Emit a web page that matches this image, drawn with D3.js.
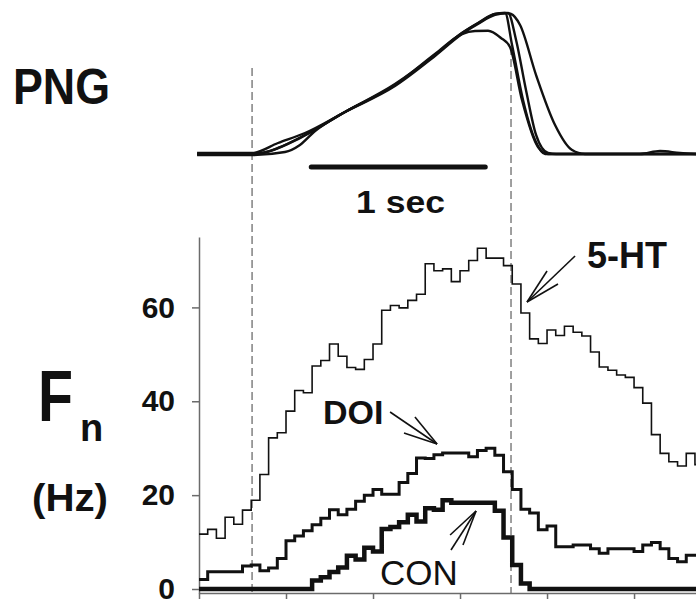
<!DOCTYPE html>
<html>
<head>
<meta charset="utf-8">
<script src="https://cdn.jsdelivr.net/npm/d3@7"></script>
<style>
  body { margin: 0; background: #fff; }
  svg { display: block; font-family: "Liberation Sans", Arial, sans-serif; }
</style>
</head>
<body>
<div id="chart"></div>
<script>
/* Firing rate histograms, 50 ms bins (Hz) */
const binWidth = 0.05;  // seconds
const ht5 = [11.7, 12.7, 10.8, 15.3, 13.8, 16.8, 18.9, 24.4, 32.2, 33.3,
  37.9, 42.3, 41.8, 47.5, 48.7, 52.2, 49.6, 47.2, 46.8, 48.9,
  52.2, 59.4, 60.4, 59.9, 61.5, 62.8, 69.3, 67.8, 68.2, 65.5,
  67.8, 70.0, 72.6, 70.5, 70.5, 68.9, 65.0, 58.8, 53.3, 52.3,
  55.2, 54.0, 56.0, 54.7, 53.9, 50.5, 47.3, 46.6, 45.6, 45.1,
  42.9, 39.6, 32.9, 28.9, 27.1, 26.2, 28.9, 26.5];
const doi = [2.0, 3.7, 3.7, 3.7, 3.7, 4.9, 5.1, 3.9, 4.5, 6.5,
  10.3, 11.3, 12.4, 13.7, 15.1, 16.9, 15.8, 17.0, 18.7, 20.0,
  21.2, 20.2, 20.2, 22.7, 24.6, 27.9, 27.8, 28.6, 29.0, 29.0,
  29.0, 28.2, 29.5, 30.0, 28.5, 25.0, 21.2, 17.0, 16.2, 12.6,
  13.4, 9.0, 9.0, 9.4, 9.4, 8.6, 7.6, 8.6, 8.6, 8.6,
  8.0, 9.4, 9.9, 8.6, 6.5, 5.8, 7.2, 7.2];
const con = [0, 0, 0, 0, 0, 0, 0, 0, 0, 0,
  0, 0, 0, 1.8, 2.5, 3.6, 4.6, 7.1, 6.3, 8.8,
  8.0, 12.8, 13.2, 14.2, 15.8, 14.4, 17.2, 16.9, 18.9, 18.4,
  18.4, 18.4, 18.4, 18.4, 16.7, 11.0, 5.1, 1.2, 0, 0,
  0, 0, 0, 0, 0, 0, 0, 0, 0, 0,
  0, 0, 0, 0, 0, 0, 0, 0];

/* Penile (PNG) movement traces: [time s, normalised amplitude] */
const pngA = [[-0.011, 0], [0.305, 0], [0.362, 0.007], [0.454, 0.043], [0.609, 0.135],
  [0.839, 0.298], [1.126, 0.489], [1.356, 0.702], [1.511, 0.858], [1.603, 0.929],
  [1.701, 0.993], [1.759, 1.0], [1.799, 0.773], [1.862, 0.383], [1.931, 0.099],
  [1.989, 0], [2.534, 0], [2.649, 0.021], [2.764, 0.007], [2.856, 0]];
const pngB = [[-0.011, 0.007], [0.305, 0.007], [0.454, 0.078], [0.609, 0.149], [0.839, 0.298],
  [1.126, 0.482], [1.356, 0.695], [1.511, 0.851], [1.603, 0.922], [1.701, 0.986],
  [1.776, 1.0], [1.822, 0.809], [1.879, 0.454], [1.937, 0.135], [2.006, 0.007],
  [2.052, 0], [2.856, 0]];
const pngC = [[-0.011, -0.007], [0.305, -0.007], [0.494, 0.014], [0.580, 0.064], [0.667, 0.163],
  [0.839, 0.298], [1.126, 0.489], [1.356, 0.709], [1.511, 0.851], [1.586, 0.872],
  [1.661, 0.874], [1.735, 0.823], [1.787, 0.759], [1.856, 0.383], [1.948, 0.050],
  [2.006, 0], [2.856, 0]];
const pngD = [[-0.011, 0], [0.305, 0], [0.408, 0.021], [0.580, 0.113], [0.839, 0.298],
  [1.126, 0.496], [1.356, 0.702], [1.511, 0.858], [1.615, 0.936], [1.701, 0.993],
  [1.759, 1.0], [1.793, 0.993], [1.845, 0.915], [1.937, 0.560], [2.046, 0.206],
  [2.144, 0.028], [2.218, 0], [2.856, 0]];

/* Axis ticks and markers */
const yTicks = [0, 20, 40, 60];
const xTicks = [0, 0.5, 1, 1.5, 2, 2.5];
const dashTimes = [0.305, 1.793];
const scaleBarStart = 0.645, scaleBarLength = 1;  // seconds

/* Series labels and their double-stroke arrows, in data units */
const labels = [
  {text: "5-HT", t: 2.23, v: 68.4, size: 36, weight: "bold"},
  {text: "DOI", t: 0.713, v: 35.2, size: 34, weight: "bold"},
  {text: "CON", t: 1.04, v: 0.85, size: 35, weight: "normal"}
];
const arrows = [
  {tip: [1.885, 61.15], tail: [2.161, 70.95], heads: [[2.0, 67.75], [2.063, 64.99]]},
  {tip: [1.368, 30.9], tail: [1.098, 37.71], heads: [[1.241, 36.65], [1.178, 33.24]]},
  {tip: [1.592, 16.62], tail: [1.448, 8.31], heads: [[1.443, 11.51], [1.517, 9.38]]}
];

const width = 696, height = 600;
const svg = d3.select("#chart")
  .append("svg")
  .attr("width", width)
  .attr("height", height)
  .attr("viewBox", [0, 0, width, height]);

/* Shared time scale */
const xScale = d3.scaleLinear()
  .domain([0, 2.856])
  .range([199, 696]);

const yScale = d3.scaleLinear()
  .domain([-0.85, 75])
  .range([593, 237]);

const pngY = d3.scaleLinear()
  .domain([0, 1])
  .range([154, 13]);

/* Dashed markers */
svg.append("g")
  .selectAll("line")
  .data(dashTimes)
  .join("line")
    .attr("x1", d => xScale(d))
    .attr("x2", d => xScale(d))
    .attr("y1", (d, i) => i === 0 ? 68 : 47)
    .attr("y2", yScale(-0.85))
    .attr("stroke", "#808080")
    .attr("stroke-width", 1.5)
    .attr("stroke-dasharray", "8,4");

/* PNG traces */
const pngLine = d3.line()
  .curve(d3.curveMonotoneX)
  .x(d => xScale(d[0]))
  .y(d => pngY(d[1]));

svg.append("g")
  .selectAll("path")
  .data([pngA, pngB, pngC, pngD])
  .join("path")
    .attr("d", pngLine)
    .attr("fill", "none")
    .attr("stroke", "#111")
    .attr("stroke-width", 2.4);

/* 1 sec scale bar */
svg.append("line")
  .attr("x1", xScale(scaleBarStart))
  .attr("x2", xScale(scaleBarStart + scaleBarLength))
  .attr("y1", 167).attr("y2", 167)
  .attr("stroke", "#111")
  .attr("stroke-width", 5)
  .attr("stroke-linecap", "round");

svg.append("text")
  .attr("x", 356).attr("y", 213)
  .attr("textLength", 89)
  .attr("lengthAdjust", "spacingAndGlyphs")
  .style("font-size", "32px")
  .style("font-weight", "bold")
  .style("fill", "#111")
  .text("1 sec");

/* Axes */
const yAxis = d3.axisLeft(yScale)
  .tickValues(yTicks)
  .tickSize(7)
  .tickSizeOuter(0)
  .tickPadding(17);

svg.append("g")
  .attr("transform", `translate(199, 0)`)
  .call(yAxis)
  .call(g => g.selectAll("line, path").attr("stroke", "#6b6b6b").attr("stroke-width", 1.5))
  .call(g => g.selectAll("text")
    .style("font-family", "'Liberation Sans', Arial, sans-serif")
    .style("font-size", "30px")
    .style("font-weight", "bold")
    .style("fill", "#111"));

const xAxis = d3.axisBottom(xScale)
  .tickValues(xTicks)
  .tickSize(6)
  .tickSizeOuter(0)
  .tickFormat("");

svg.append("g")
  .attr("transform", `translate(0, ${yScale(-0.85)})`)
  .call(xAxis)
  .call(g => g.selectAll("line, path").attr("stroke", "#6b6b6b").attr("stroke-width", 1.5));

/* Step histograms */
const toSteps = vals => vals.map((v, i) => [i * binWidth, v])
  .concat([[vals.length * binWidth, vals[vals.length - 1]]]);

const stepLine = d3.line()
  .curve(d3.curveStepAfter)
  .x(d => xScale(d[0]))
  .y(d => yScale(d[1]));

svg.append("clipPath").attr("id", "plot-clip")
  .append("rect")
  .attr("x", 199).attr("y", 0)
  .attr("width", width - 199).attr("height", height);

svg.append("g")
  .attr("clip-path", "url(#plot-clip)")
  .selectAll("path")
  .data([{vals: ht5, w: 1.6}, {vals: doi, w: 3}, {vals: con, w: 4.5}])
  .join("path")
    .attr("d", d => stepLine(toSteps(d.vals)))
    .attr("fill", "none")
    .attr("stroke", "#111")
    .attr("stroke-width", d => d.w)
    .attr("stroke-linejoin", "miter");

/* Series labels */
svg.append("g")
  .selectAll("text")
  .data(labels)
  .join("text")
    .attr("x", d => xScale(d.t))
    .attr("y", d => yScale(d.v))
    .style("font-size", d => d.size + "px")
    .style("font-weight", d => d.weight)
    .style("fill", "#111")
    .text(d => d.text);

/* Arrows: shaft plus two head strokes from the tip */
const arrowG = svg.append("g")
  .attr("stroke", "#111")
  .attr("stroke-width", 1.6);

arrows.forEach(a => {
  [a.tail, ...a.heads].forEach(p => {
    arrowG.append("line")
      .attr("x1", xScale(a.tip[0])).attr("y1", yScale(a.tip[1]))
      .attr("x2", xScale(p[0])).attr("y2", yScale(p[1]));
  });
});

/* Left titles */
svg.append("text")
  .attr("x", 13).attr("y", 104)
  .attr("textLength", 97)
  .attr("lengthAdjust", "spacingAndGlyphs")
  .style("font-size", "50px")
  .style("font-weight", "bold")
  .style("fill", "#111")
  .text("PNG");

svg.append("text")
  .attr("x", 38).attr("y", 421)
  .attr("textLength", 35)
  .attr("lengthAdjust", "spacingAndGlyphs")
  .style("font-size", "72px")
  .style("font-weight", "bold")
  .style("fill", "#111")
  .text("F");

svg.append("text")
  .attr("x", 80).attr("y", 441)
  .style("font-size", "38px")
  .style("font-weight", "bold")
  .style("fill", "#111")
  .text("n");

svg.append("text")
  .attr("x", 32).attr("y", 511)
  .attr("textLength", 76)
  .attr("lengthAdjust", "spacingAndGlyphs")
  .style("font-size", "39px")
  .style("font-weight", "bold")
  .style("fill", "#111")
  .text("(Hz)");
</script>
</body>
</html>
